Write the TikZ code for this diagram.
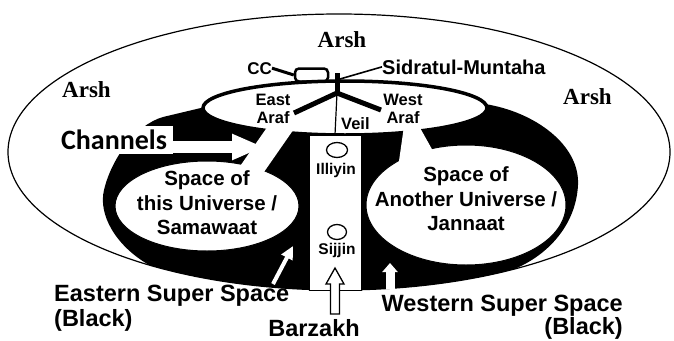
\documentclass[tikz,border=0pt]{standalone}
\usepackage{fontspec}
\setmainfont{Liberation Sans}
\newfontfamily\arshfont{Liberation Serif}
\newfontfamily\chanfont{Carlito}
\usetikzlibrary{arrows.meta,shapes.geometric}
\begin{document}
\begin{tikzpicture}[x=1pt,y=-1pt,
  arshlbl/.style={font=\arshfont\bfseries\fontsize{23}{25}\selectfont, inner sep=0pt},
  biglbl/.style={font=\bfseries\fontsize{23.5}{21.5}\selectfont, inner sep=0pt},
  unilbl/.style={font=\bfseries\fontsize{20.5}{24.5}\selectfont, inner sep=0pt, align=center},
  smlbl/.style={font=\bfseries\fontsize{16.5}{18}\selectfont, inner sep=0pt},
  whitearrow/.style={white, line width=#1},
  smallring/.style={ellipse, draw, line width=1.3pt, inner sep=0pt, minimum width=21pt, minimum height=15pt}
]
\useasboundingbox (0,0) rectangle (674,340);
\fill[white] (0,0) rectangle (674,340);

% outer Arsh boundary
\draw[line width=1.2pt] (339,152) ellipse [x radius=331, y radius=138];

% black super space
\fill[black] plot[domain=58:125, samples=40] ({339+331*cos(\x)},{152+138*sin(\x)})
  .. controls (116,246) and (98,215) .. (104,190)
  .. controls (111,160) and (135,125) .. (163,117)
  -- (205,107) -- (485,104)
  .. controls (535,112) and (580,145) .. (578,185)
  .. controls (576,225) and (548,255) .. (514.4,269) -- cycle;

% Araf ellipse
\draw[line width=3.5pt, fill=white] (345,108) ellipse [x radius=142, y radius=27];

% universe spaces
\draw[line width=1pt, fill=white] (207,206) ellipse [x radius=92, y radius=45];
\draw[line width=1pt, fill=white] (466,205) ellipse [x radius=100, y radius=60];

% channels
\fill[white] (268,126) -- (296,126) -- (264,172) -- (236,172) -- cycle;
\fill[white] (404,126) -- (419,126) -- (438,160) -- (398,168) -- cycle;

% Barzakh column
\node[draw, fill=white, line width=1pt, inner sep=0pt, minimum width=52pt, minimum height=155pt] (barz) at (335,212.5) {};
\node[smallring] (illc) at (337,150) {};
\node[smallring, minimum width=19pt, minimum height=15pt] (sijc) at (337,232) {};
\node[smlbl, font=\bfseries\fontsize{15.5}{17}\selectfont, anchor=base] (illi) at (336,174) {Illiyin};
\node[smlbl, font=\bfseries\fontsize{15.5}{17}\selectfont, anchor=base] (sijj) at (337,254) {Sijjin};

% tree and veil
\coordinate (trtop) at (337,73);
\coordinate (trj) at (337,93);
\coordinate (brl) at (294,113);
\coordinate (brr) at (381,110);
\coordinate (sidp) at (340,79);
\draw[line width=5pt] (trtop) -- (trj);
\draw[line width=5pt] (trj) -- (brl);
\draw[line width=5pt] (trj) -- (brr);
\draw[line width=1.2pt] (trj) -- (barz.north);

% CC
\node[draw, rounded corners=4pt, line width=2.5pt, inner sep=0pt, minimum width=33pt, minimum height=13pt] (ccbox) at (311.5,75) {};
\node[smlbl, font=\bfseries\fontsize{17}{19}\selectfont, anchor=base east] (cc) at (272,74) {CC};
\draw[line width=3pt] (cc.east) -- (ccbox.west);

% Sidratul-Muntaha
\node[smlbl, font=\bfseries\fontsize{20}{22}\selectfont, anchor=base west] (sidr) at (382,74) {Sidratul-Muntaha};
\draw[line width=1.6pt] (sidp) -- (sidr.west);

% Arsh labels
\node[arshlbl, anchor=base] (arshtop) at (342,47) {Arsh};
\node[arshlbl, anchor=base west] (arshl) at (62,97) {Arsh};
\node[arshlbl, anchor=base west] (arshr) at (563,104) {Arsh};

% Araf and veil labels
\node[smlbl, align=center, anchor=north] (eastaraf) at (273,94) {East\\Araf};
\node[smlbl, align=center, anchor=north] (westaraf) at (403,94) {West\\Araf};
\node[smlbl, anchor=base west] (veil) at (341,129) {Veil};

% universe labels
\node[unilbl] (uni1) at (207,203) {Space of\\this Universe /\\Samawaat};
\node[unilbl] (uni2) at (466,199) {Space of\\Another Universe /\\Jannaat};

% Channels
\node[fill=white, inner sep=0pt, minimum width=118pt, minimum height=28pt,
      font=\chanfont\bfseries\fontsize{28}{30}\selectfont] (chbox) at (114,140) {Channels};
\coordinate (chtip) at (264,147);
\draw[whitearrow=12pt, -{Triangle[width=24pt,length=32pt]}] (chbox.east |- chtip) -- (chtip);

% bottom labels
\node[biglbl, font=\bfseries\fontsize{23.5}{25}\selectfont, align=left, anchor=north west] (eastl) at (54,285) {Eastern Super Space\\(Black)};
\node[biglbl, anchor=base] (barzl) at (314,336) {Barzakh};
\node[biglbl, align=right, anchor=north east] (westl) at (623,295) {Western Super Space\\(Black)};

% bottom arrows
\coordinate (eatail) at (273,284);
\coordinate (eatip) at (293,246);
\draw[whitearrow=4pt, -{Triangle[width=12pt,length=13pt]}] (eatail) -- (eatip);
\coordinate (watail) at (390,289);
\coordinate (watip) at (390,263);
\draw[whitearrow=9pt, -{Triangle[width=15pt,length=9pt]}] (watail) -- (watip);
\coordinate (barztip) at (335,268);
\draw[fill=white, line width=1.3pt, line join=miter] (barztip) -- ++(9,16) -- ++(-4.5,0) -- ++(0,30)
  -- ++(-9,0) -- ++(0,-30) -- ++(-4.5,0) -- cycle;
\end{tikzpicture}
\end{document}
